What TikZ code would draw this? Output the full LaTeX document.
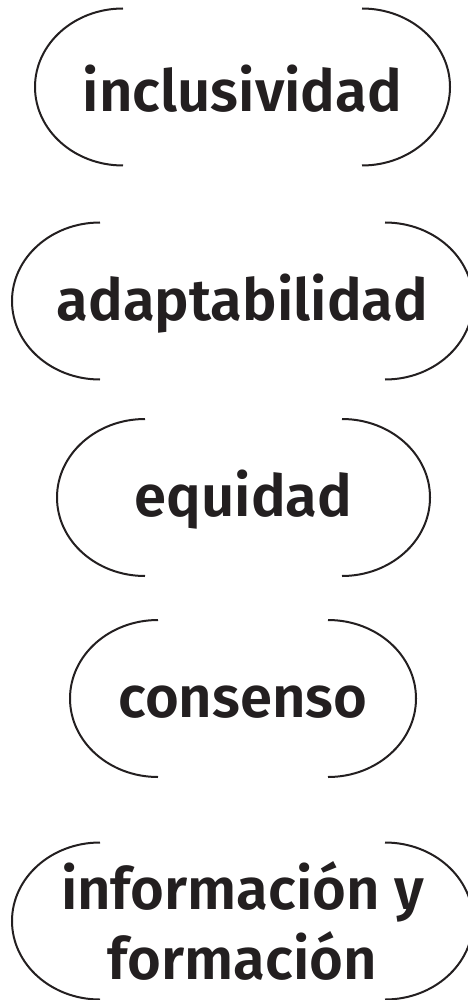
\documentclass[tikz,border=0pt]{standalone}
\usepackage{fontspec}
\setmainfont{Fira Sans}[BoldFont={Fira Sans SemiBold}]
\definecolor{ink}{HTML}{231F20}

\begin{document}
\begin{tikzpicture}[
x=1pt, y=1pt,
value/.style={
	font=\fontsize{58}{70}\selectfont\bfseries,
	text=ink, inner sep=0pt,
	text height=50pt, text depth=12pt,
	align=center,
},
bracket/.style={draw=ink, line width=2pt},
]
\useasboundingbox (0,0) rectangle (467,-1000);

\node[value, text depth=0pt] (inclusividad) at (242.5,-87) {inclusividad};
\node[value] (adaptabilidad) at (242.5,-301) {adaptabilidad};
\node[value] (equidad) at (243.5,-497.5) {equidad};
\node[value] (consenso) at (243,-698.5) {consenso};
\node[value] (informacion) at (242.5,-960) {información y\\formación};

\draw[bracket] ([shift={(-119.5,78.5)}]inclusividad.center) arc[start angle=90, end angle=270, x radius=88pt, y radius=78.5pt];
\draw[bracket] ([shift={(119.5,-78.5)}]inclusividad.center) arc[start angle=-90, end angle=90, x radius=88pt, y radius=78.5pt];
\draw[bracket] ([shift={(-142.5,78.5)}]adaptabilidad.center) arc[start angle=90, end angle=270, x radius=88pt, y radius=78.5pt];
\draw[bracket] ([shift={(142.5,-78.5)}]adaptabilidad.center) arc[start angle=-90, end angle=90, x radius=88pt, y radius=78.5pt];
\draw[bracket] ([shift={(-98.5,78.5)}]equidad.center) arc[start angle=90, end angle=270, x radius=88pt, y radius=78.5pt];
\draw[bracket] ([shift={(98.5,-78.5)}]equidad.center) arc[start angle=-90, end angle=90, x radius=88pt, y radius=78.5pt];
\draw[bracket] ([shift={(-85,78.5)}]consenso.center) arc[start angle=90, end angle=270, x radius=88pt, y radius=78.5pt];
\draw[bracket] ([shift={(85,-78.5)}]consenso.center) arc[start angle=-90, end angle=90, x radius=88pt, y radius=78.5pt];
\draw[bracket] ([shift={(-142.5,117.5)}]informacion.center) arc[start angle=90, end angle=270, x radius=88pt, y radius=78.5pt];
\draw[bracket] ([shift={(142.5,-39.5)}]informacion.center) arc[start angle=-90, end angle=90, x radius=88pt, y radius=78.5pt];
\end{tikzpicture}
\end{document}
